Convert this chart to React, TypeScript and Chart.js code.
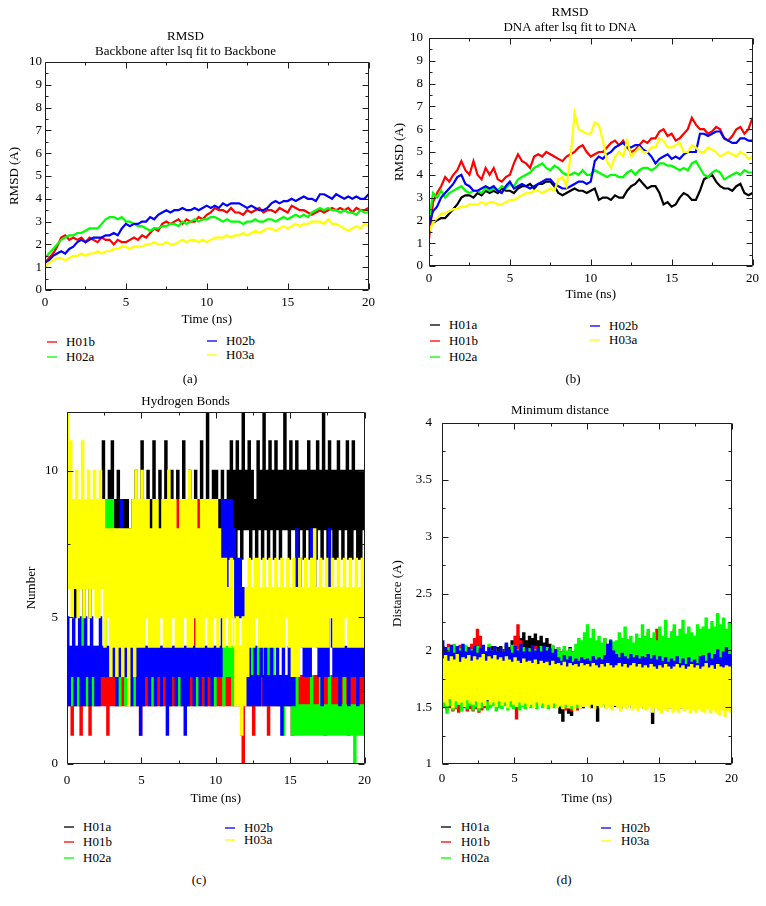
import React, { useEffect, useRef } from "react";
import { Chart, registerables } from "chart.js";

Chart.register(...registerables);

const SERIF = '"Liberation Serif", "Times New Roman", serif';

// ---------------- shared axis data ----------------
const TIME_MIN = 0;
const TIME_MAX = 20;
const TIME_TICKS = [0, 5, 10, 15, 20];
const TIME_MINOR = [2.5, 7.5, 12.5, 17.5];

const RMSD_TICKS = [0, 1, 2, 3, 4, 5, 6, 7, 8, 9, 10];
const RMSD_MINOR = [0.5, 1.5, 2.5, 3.5, 4.5, 5.5, 6.5, 7.5, 8.5, 9.5];
const HB_TICKS = [0, 5, 10];
const HB_MINOR = [2.5, 7.5];
const DIST_TICKS = [1, 1.5, 2, 2.5, 3, 3.5, 4];
const DIST_MINOR = [1.25, 1.75, 2.25, 2.75, 3.25, 3.75];

const RMSD_STEP = 0.25; // ns between samples, panels (a) and (b)
const CONTACT_STEP = 0.1; // ns between samples, panels (c) and (d)

const SERIES_COLORS: Record<string, string> = {
  H01a: "#000000",
  H01b: "#ff0000",
  H02a: "#00ff00",
  H02b: "#0000ff",
  H03a: "#ffff00",
};
// xmgrace draws later sets on top; in Chart.js a lower order is drawn on top
const SERIES_ORDER: Record<string, number> = { H01a: 4, H01b: 3, H02a: 2, H02b: 1, H03a: 0 };

// ---------------- (a) Backbone RMSD ----------------
const A_H01B = [
  1.2, 1.4, 1.6, 1.9, 2.3, 2.4, 2.2, 2.3,
  2.2, 2.3, 2.1, 2.3, 2.2, 2.1, 2.3, 2.2,
  2.2, 2.0, 2.2, 2.1, 2.1, 2.2, 2.3, 2.2,
  2.4, 2.3, 2.5, 2.7, 2.6, 2.9, 3.0, 2.9,
  3.0, 3.1, 2.9, 3.1, 3.0, 3.0, 3.2, 3.1,
  3.3, 3.4, 3.6, 3.5, 3.5, 3.4, 3.6, 3.4,
  3.4, 3.3, 3.5, 3.4, 3.5, 3.6, 3.4, 3.5,
  3.5, 3.4, 3.6, 3.5, 3.4, 3.7, 3.6, 3.5,
  3.5, 3.4, 3.3, 3.4, 3.5, 3.4, 3.5, 3.6,
  3.5, 3.6, 3.5, 3.6, 3.4, 3.6, 3.5, 3.5,
  3.6,
];
const A_H02A = [
  1.4, 1.6, 1.8, 2.0, 2.2, 2.3, 2.4, 2.4,
  2.5, 2.5, 2.6, 2.7, 2.7, 2.7, 2.9, 3.1,
  3.2, 3.2, 3.1, 3.2, 3.0, 3.0, 2.9, 2.8,
  2.8, 2.7, 2.6, 2.7, 2.7, 2.8, 2.8, 2.9,
  2.9, 2.8, 3.0, 2.9, 3.0, 3.1, 3.0, 3.1,
  3.1, 3.2, 3.2, 3.1, 3.0, 3.1, 3.0, 3.0,
  3.0, 2.9, 3.0, 3.0, 3.1, 3.0, 3.0, 3.1,
  3.1, 3.0, 3.1, 3.2, 3.1, 3.2, 3.3, 3.2,
  3.3, 3.2, 3.4, 3.5, 3.6, 3.5, 3.6, 3.5,
  3.5, 3.4, 3.5, 3.4, 3.4, 3.3, 3.5, 3.4,
  3.4,
];
const A_H02B = [
  1.2, 1.3, 1.5, 1.6, 1.7, 1.6, 1.8, 1.9,
  2.1, 2.2, 2.1, 2.2, 2.3, 2.3, 2.3, 2.4,
  2.4, 2.5, 2.4, 2.7, 2.9, 2.8, 2.9, 2.9,
  3.0, 3.0, 3.2, 3.1, 3.3, 3.4, 3.5, 3.4,
  3.5, 3.5, 3.6, 3.5, 3.5, 3.6, 3.5, 3.6,
  3.7, 3.6, 3.7, 3.6, 3.8, 3.7, 3.8, 3.8,
  3.8, 3.7, 3.6, 3.7, 3.6, 3.5, 3.5, 3.6,
  3.8, 3.9, 3.8, 3.9, 3.9, 4.0, 3.9, 4.0,
  4.1, 4.0, 4.0, 3.9, 4.2, 4.2, 4.1, 4.0,
  4.2, 4.1, 4.0, 4.1, 4.0, 4.1, 4.0, 4.0,
  4.2,
];
const A_H03A = [
  1.0, 1.2, 1.3, 1.4, 1.4, 1.3, 1.4, 1.5,
  1.5, 1.6, 1.5, 1.6, 1.6, 1.7, 1.6, 1.7,
  1.7, 1.8, 1.8, 1.9, 1.9, 1.8, 1.9, 1.9,
  1.9, 2.0, 2.0, 2.1, 2.0, 2.0, 2.1, 2.0,
  2.0, 2.1, 2.2, 2.1, 2.2, 2.2, 2.1, 2.2,
  2.1, 2.2, 2.3, 2.3, 2.3, 2.4, 2.3, 2.4,
  2.4, 2.5, 2.4, 2.5, 2.6, 2.5, 2.6, 2.7,
  2.7, 2.6, 2.7, 2.8, 2.7, 2.8, 2.9, 2.8,
  2.9, 2.9, 3.0, 3.0, 3.0, 2.9, 3.1, 2.9,
  2.9, 2.8, 2.7, 2.6, 2.7, 2.8, 2.7, 2.9,
  2.8,
];

// ---------------- (b) DNA RMSD ----------------
const B_H01A = [
  1.6, 1.9, 2.0, 2.1, 2.1, 2.3, 2.5, 2.7,
  3.0, 3.1, 3.1, 3.0, 3.2, 3.1, 3.3, 3.2,
  3.3, 3.2, 3.4, 3.3, 3.3, 3.2, 3.4, 3.5,
  3.5, 3.6, 3.4, 3.6, 3.6, 3.7, 3.7, 3.5,
  3.2, 3.1, 3.2, 3.3, 3.4, 3.3, 3.3, 3.2,
  3.3, 3.4, 2.9, 3.0, 3.0, 2.9, 3.1, 3.0,
  3.0, 3.3, 3.5, 3.6, 3.8, 3.6, 3.4, 3.5,
  3.5, 3.2, 2.7, 2.8, 2.6, 2.7, 3.0, 3.2,
  3.1, 2.9, 2.9, 3.3, 3.8, 3.9, 4.0, 3.7,
  3.5, 3.4, 3.4, 3.3, 3.5, 3.6, 3.2, 3.1,
  3.2,
];
const B_H01B = [
  1.2, 2.8, 3.2, 3.5, 3.9, 3.7, 4.0, 4.2,
  4.6, 4.2, 4.0, 4.6, 4.0, 3.8, 4.3, 4.0,
  4.3, 3.8, 3.7, 3.9, 4.0, 4.5, 4.9, 4.6,
  4.5, 4.3, 4.8, 4.9, 4.8, 5.0, 4.9, 4.8,
  4.7, 4.6, 4.8, 4.9, 5.0, 5.2, 5.3, 5.0,
  4.8, 4.9, 5.0, 5.0, 5.2, 5.4, 5.5, 5.3,
  5.5, 5.2, 5.0, 5.1, 5.3, 5.5, 5.4, 5.6,
  5.6, 5.9, 6.0, 5.7, 5.8, 5.5, 5.6, 5.8,
  6.0, 6.5, 6.2, 6.0, 6.0, 5.8, 5.9, 6.1,
  6.0, 5.6, 5.5, 5.7, 6.0, 6.1, 5.8, 6.0,
  6.5,
];
const B_H02A = [
  2.0, 3.2, 3.0, 3.3, 3.0, 3.2, 3.3, 3.4,
  3.5, 3.3, 3.2, 3.3, 3.3, 3.2, 3.4, 3.3,
  3.4, 3.3, 3.5, 3.4, 3.6, 3.5, 3.8, 3.9,
  4.0, 4.1, 4.3, 4.4, 4.5, 4.3, 4.2, 4.4,
  4.3, 4.1, 4.0, 4.0, 4.1, 4.0, 4.2, 4.0,
  4.0, 4.2, 4.1, 4.0, 3.9, 4.0, 4.0, 3.9,
  3.9, 4.1, 4.2, 4.0, 4.2, 4.3, 4.3, 4.2,
  4.3, 4.5, 4.5, 4.4, 4.4, 4.3, 4.2, 4.3,
  4.2, 4.5, 4.6, 4.3, 4.0, 3.9, 4.1, 4.2,
  4.1, 3.8, 3.9, 4.0, 4.1, 4.0, 4.2, 4.1,
  4.1,
];
const B_H02B = [
  1.8, 2.4, 2.6, 3.0, 3.2, 3.4, 3.6, 3.9,
  4.0, 3.6, 3.5, 3.3, 3.3, 3.4, 3.5, 3.4,
  3.5, 3.3, 3.2, 3.5, 3.7, 3.4, 3.5, 3.6,
  3.5, 3.4, 3.5, 3.6, 3.7, 3.8, 3.8, 3.6,
  3.5, 3.4, 3.4, 3.5, 3.6, 3.7, 3.7, 3.6,
  3.7, 4.6, 4.8, 4.7, 4.9, 5.0, 5.2, 5.3,
  5.4, 5.2, 5.2, 5.3, 5.3, 5.1, 5.0, 4.8,
  4.5, 4.7, 4.8, 4.9, 4.7, 4.8, 4.7, 4.9,
  5.0, 5.0, 5.0, 5.8, 5.8, 5.7, 5.8, 5.9,
  5.9, 5.6, 5.5, 5.4, 5.4, 5.6, 5.6, 5.5,
  5.5,
];
const B_H03A = [
  1.5, 1.9, 2.1, 2.3, 2.3, 2.4, 2.5, 2.5,
  2.6, 2.6, 2.7, 2.7, 2.7, 2.8, 2.7, 2.8,
  2.8, 2.7, 2.7, 2.8, 2.9, 2.9, 3.0, 3.1,
  3.2, 3.2, 3.3, 3.3, 3.2, 3.3, 3.4, 3.3,
  3.8, 3.9, 3.5, 4.8, 6.7, 6.0, 5.9, 5.8,
  5.8, 6.3, 6.2, 5.5, 4.6, 4.3, 4.8, 5.0,
  4.8, 5.5, 4.8, 5.0, 5.2, 5.0, 5.0, 5.2,
  5.2, 5.6, 5.5, 5.2, 5.2, 5.3, 5.4, 5.0,
  5.0, 5.3, 5.2, 5.0, 5.0, 5.2, 5.1, 5.0,
  4.8, 4.9, 5.0, 4.9, 4.8, 5.0, 4.9, 4.7,
  4.8,
];

// ---------------- (c) Hydrogen bonds ----------------
const C_H01A = [
  8, 6, 9, 6, 8, 5, 8, 6, 9, 6, 8, 5, 8, 6, 9, 5, 8, 6, 9, 6,
  8, 6, 9, 6, 11, 8, 9, 8, 10, 8, 11, 8, 9, 8, 10, 8, 9, 7, 9, 8,
  9, 7, 8, 6, 9, 7, 10, 7, 9, 7, 11, 7, 9, 7, 10, 7, 9, 7, 11, 7,
  9, 7, 10, 7, 9, 7, 11, 8, 9, 7, 10, 7, 9, 7, 10, 7, 9, 7, 11, 8,
  9, 7, 10, 7, 9, 7, 10, 7, 9, 7, 11, 8, 9, 7, 12, 8, 9, 7, 10, 8,
  10, 8, 9, 8, 10, 7, 9, 8, 10, 7, 11, 8, 10, 7, 11, 8, 10, 7, 12, 8,
  10, 8, 11, 7, 10, 8, 9, 7, 11, 8, 10, 7, 12, 8, 10, 7, 11, 8, 10, 7,
  11, 8, 10, 7, 10, 8, 12, 8, 10, 7, 11, 8, 10, 8, 11, 7, 10, 8, 10, 7,
  10, 8, 11, 7, 10, 8, 10, 7, 11, 8, 10, 7, 12, 8, 10, 7, 11, 8, 10, 7,
  10, 7, 11, 8, 10, 7, 10, 8, 11, 7, 10, 7, 11, 8, 10, 7, 10, 7, 10, 8,
  10,
];
const C_H01B = [
  3, 2, 3, 1, 3, 2, 3, 2, 3, 1, 3, 2, 3, 2, 3, 1, 3, 2, 3, 2,
  3, 2, 3, 2, 3, 2, 3, 1, 3, 2, 3, 2, 3, 2, 3, 2, 3, 2, 3, 2,
  3, 2, 3, 2, 3, 2, 3, 2, 3, 1, 3, 2, 3, 2, 3, 2, 3, 2, 3, 2,
  3, 2, 3, 2, 3, 2, 3, 2, 3, 2, 3, 2, 3, 2, 9, 3, 3, 2, 3, 2,
  3, 2, 3, 2, 3, 2, 9, 8, 9, 8, 3, 2, 3, 2, 3, 2, 3, 2, 3, 2,
  3, 2, 3, 2, 3, 2, 3, 2, 3, 2, 3, 2, 3, 2, 3, 2, 3, 1, 0, 2,
  3, 2, 3, 2, 3, 1, 3, 2, 3, 2, 3, 2, 3, 2, 3, 1, 3, 2, 3, 2,
  3, 2, 3, 2, 3, 2, 3, 2, 3, 2, 3, 1, 3, 2, 3, 2, 3, 2, 3, 2,
  3, 2, 3, 2, 3, 2, 3, 2, 3, 2, 3, 2, 3, 1, 3, 2, 3, 2, 3, 2,
  3, 2, 3, 2, 3, 2, 3, 2, 3, 1, 3, 2, 3, 2, 3, 2, 3, 2, 3, 2,
  3,
];
const C_H02A = [
  4, 3, 4, 2, 4, 3, 4, 2, 4, 3, 5, 3, 4, 2, 4, 3, 4, 2, 4, 3,
  4, 3, 4, 3, 4, 3, 9, 8, 9, 8, 9, 8, 4, 3, 4, 2, 4, 3, 4, 2,
  4, 3, 4, 3, 4, 2, 4, 3, 4, 3, 4, 2, 4, 3, 4, 3, 4, 2, 4, 3,
  4, 3, 4, 2, 4, 3, 4, 3, 4, 2, 4, 3, 4, 3, 4, 2, 4, 3, 4, 3,
  4, 2, 4, 3, 4, 3, 4, 2, 4, 3, 4, 3, 4, 2, 4, 3, 4, 3, 4, 2,
  4, 3, 4, 3, 4, 2, 4, 3, 4, 3, 4, 2, 4, 3, 4, 3, 4, 2, 4, 3,
  4, 3, 4, 2, 4, 3, 4, 3, 4, 2, 4, 3, 4, 3, 4, 2, 4, 3, 4, 3,
  3, 2, 3, 2, 3, 1, 3, 2, 3, 2, 3, 1, 2, 1, 3, 1, 2, 1, 2, 1,
  2, 1, 2, 1, 3, 1, 2, 1, 2, 1, 3, 1, 2, 1, 2, 1, 3, 1, 2, 1,
  2, 1, 2, 1, 2, 1, 3, 1, 2, 1, 2, 1, 2, 0, 2, 1, 2, 1, 2, 1,
  2,
];
const C_H02B = [
  5, 2, 4, 3, 5, 2, 4, 3, 5, 2, 4, 2, 5, 3, 4, 2, 5, 3, 4, 2,
  4, 2, 5, 3, 4, 3, 4, 3, 4, 3, 4, 3, 4, 2, 4, 3, 9, 3, 8, 3,
  7, 3, 4, 2, 4, 3, 4, 2, 4, 1, 4, 2, 4, 3, 4, 2, 4, 3, 4, 2,
  4, 3, 4, 2, 4, 3, 4, 1, 4, 2, 4, 3, 4, 2, 4, 3, 4, 2, 4, 1,
  4, 2, 4, 3, 4, 2, 4, 3, 4, 2, 4, 3, 4, 2, 4, 3, 4, 2, 4, 3,
  4, 3, 4, 3, 9, 7, 9, 6, 9, 7, 9, 7, 8, 5, 7, 5, 7, 5, 6, 5,
  3, 2, 4, 2, 3, 2, 4, 2, 3, 2, 4, 3, 2, 4, 2, 3, 2, 4, 2, 3,
  2, 4, 2, 3, 1, 4, 2, 3, 2, 4, 2, 3, 2, 3, 8, 6, 7, 6, 4, 3,
  4, 3, 4, 3, 8, 6, 7, 6, 4, 3, 4, 2, 4, 3, 4, 3, 8, 6, 4, 3,
  4, 3, 4, 2, 4, 3, 4, 3, 4, 2, 4, 3, 4, 3, 4, 2, 4, 3, 4, 3,
  4,
];
const C_H03A = [
  12, 6, 11, 5, 9, 6, 10, 5, 9, 6, 11, 5, 9, 6, 10, 5, 9, 6, 10, 5,
  9, 5, 10, 6, 9, 4, 8, 5, 8, 3, 8, 4, 8, 3, 8, 4, 8, 3, 8, 4,
  8, 2, 8, 4, 9, 3, 10, 4, 9, 4, 10, 4, 9, 5, 9, 4, 8, 4, 9, 4,
  9, 4, 8, 5, 9, 4, 9, 4, 10, 4, 9, 5, 9, 4, 8, 4, 9, 4, 9, 5,
  9, 4, 10, 4, 9, 5, 9, 4, 8, 4, 9, 4, 9, 5, 9, 4, 9, 4, 9, 5,
  9, 4, 8, 5, 7, 4, 7, 5, 6, 4, 7, 5, 4, 2, 5, 2, 4, 1, 5, 2,
  6, 3, 7, 4, 6, 4, 7, 5, 7, 4, 6, 4, 7, 4, 6, 4, 7, 4, 6, 4,
  7, 4, 6, 4, 7, 4, 6, 5, 7, 4, 6, 3, 7, 3, 6, 3, 7, 4, 6, 4,
  7, 4, 6, 4, 7, 4, 8, 4, 6, 4, 7, 4, 6, 4, 7, 4, 6, 5, 7, 4,
  6, 4, 7, 4, 6, 4, 7, 5, 6, 4, 7, 4, 6, 4, 7, 4, 6, 4, 7, 4,
  6,
];

// ---------------- (d) Minimum distance ----------------
const D_H01A = [
  2.03, 1.53, 1.99, 1.50, 2.02, 1.55, 1.98, 1.52, 2.04, 1.54, 1.99, 1.51, 2.02, 1.53, 1.98, 1.55, 2.03, 1.52, 2.00, 1.54,
  2.02, 1.53, 1.99, 1.55, 2.03, 1.52, 2.00, 1.54, 2.02, 1.53, 1.98, 1.55, 2.01, 1.52, 2.03, 1.54, 1.99, 1.53, 2.02, 1.55,
  2.03, 1.52, 2.00, 1.54, 2.05, 1.53, 2.02, 1.55, 2.08, 1.52, 2.06, 1.54, 2.12, 1.53, 2.10, 1.55, 2.15, 1.52, 2.08, 1.54,
  2.12, 1.53, 2.10, 1.55, 2.14, 1.52, 2.08, 1.54, 2.12, 1.53, 2.06, 1.55, 2.10, 1.52, 2.05, 1.54, 2.03, 1.53, 2.00, 1.55,
  2.02, 1.45, 1.98, 1.38, 2.00, 1.50, 1.97, 1.45, 2.02, 1.43, 1.98, 1.50, 1.99, 1.52, 2.01, 1.53, 1.98, 1.50, 2.00, 1.52,
  2.01, 1.53, 1.99, 1.50, 2.02, 1.52, 1.98, 1.38, 2.00, 1.52, 1.99, 1.53, 2.01, 1.50, 1.98, 1.52, 2.00, 1.53, 1.99, 1.51,
  2.00, 1.52, 1.98, 1.50, 2.01, 1.53, 1.99, 1.51, 2.00, 1.52, 1.98, 1.50, 2.01, 1.52, 1.99, 1.51, 2.00, 1.53, 1.98, 1.50,
  2.00, 1.51, 1.98, 1.53, 2.01, 1.36, 1.99, 1.52, 2.00, 1.50, 1.98, 1.52, 2.01, 1.51, 1.99, 1.53, 2.00, 1.50, 1.98, 1.52,
  2.00, 1.51, 1.99, 1.52, 2.01, 1.50, 1.98, 1.52, 2.00, 1.51, 1.99, 1.53, 2.01, 1.50, 1.98, 1.52, 2.00, 1.51, 1.99, 1.52,
  2.01, 1.50, 1.98, 1.52, 2.00, 1.51, 1.99, 1.53, 2.01, 1.50, 1.98, 1.52, 2.00, 1.51, 1.99, 1.52, 2.00, 1.50, 1.98, 1.52,
  2.00,
];
const D_H01B = [
  2.02, 1.52, 1.98, 1.48, 2.05, 1.50, 1.99, 1.47, 2.03, 1.49, 1.97, 1.46, 2.04, 1.48, 1.98, 1.50, 2.02, 1.47, 1.99, 1.49,
  2.05, 1.47, 2.10, 1.49, 2.18, 1.46, 2.12, 1.48, 2.03, 1.50, 1.98, 1.52, 2.02, 1.55, 1.99, 1.53, 2.01, 1.55, 1.98, 1.53,
  2.02, 1.54, 1.99, 1.52, 2.03, 1.55, 1.98, 1.53, 2.01, 1.50, 2.12, 1.40, 2.22, 1.52, 2.08, 1.54, 2.02, 1.55, 1.99, 1.53,
  2.01, 1.54, 1.98, 1.52, 2.03, 1.55, 1.99, 1.53, 2.00, 1.54, 1.98, 1.52, 2.02, 1.55, 1.99, 1.53, 2.01, 1.54, 1.98, 1.52,
  2.00, 1.53, 1.98, 1.50, 1.95, 1.48, 1.97, 1.49, 1.94, 1.47, 1.96, 1.50, 1.95, 1.48, 1.97, 1.50, 1.98, 1.52, 2.00, 1.53,
  2.02, 1.53, 1.99, 1.55, 2.01, 1.52, 1.98, 1.54, 2.02, 1.53, 1.99, 1.55, 2.10, 1.52, 2.01, 1.54, 1.98, 1.53, 2.00, 1.55,
  2.00, 1.54, 2.02, 1.52, 1.99, 1.55, 2.01, 1.53, 2.05, 1.54, 2.00, 1.52, 1.98, 1.55, 2.10, 1.53, 2.02, 1.54, 1.99, 1.52,
  2.01, 1.54, 2.15, 1.52, 2.00, 1.55, 2.02, 1.53, 2.18, 1.54, 2.01, 1.52, 1.99, 1.55, 2.03, 1.53, 2.00, 1.54, 2.02, 1.52,
  2.18, 1.54, 2.00, 1.52, 2.02, 1.55, 2.08, 1.53, 2.00, 1.54, 2.03, 1.52, 2.01, 1.55, 1.99, 1.53, 2.02, 1.54, 2.00, 1.52,
  2.02, 1.54, 2.00, 1.52, 2.05, 1.55, 2.01, 1.53, 2.03, 1.54, 2.00, 1.52, 2.02, 1.55, 2.01, 1.53, 2.00, 1.54, 2.02, 1.52,
  2.01,
];
const D_H02A = [
  2.00, 1.50, 1.95, 1.45, 2.02, 1.52, 1.97, 1.48, 2.05, 1.50, 1.96, 1.53, 2.01, 1.47, 1.98, 1.51, 2.04, 1.49, 1.96, 1.52,
  2.00, 1.48, 1.97, 1.51, 2.03, 1.47, 1.98, 1.50, 2.02, 1.53, 1.96, 1.48, 2.05, 1.50, 1.99, 1.52, 2.01, 1.47, 1.97, 1.50,
  2.02, 1.49, 1.96, 1.52, 2.03, 1.48, 1.98, 1.51, 2.04, 1.49, 1.97, 1.52, 2.00, 1.48, 1.99, 1.51, 2.02, 1.49, 1.98, 1.52,
  2.01, 1.50, 1.97, 1.53, 2.00, 1.49, 1.98, 1.52, 2.03, 1.50, 1.99, 1.53, 2.02, 1.49, 1.98, 1.51, 2.04, 1.50, 1.99, 1.52,
  2.02, 1.51, 1.98, 1.53, 2.03, 1.50, 1.99, 1.52, 2.01, 1.49, 1.98, 1.52, 2.05, 1.50, 2.10, 1.53, 2.08, 1.51, 2.15, 1.52,
  2.22, 1.53, 2.10, 1.55, 2.18, 1.52, 2.08, 1.54, 2.12, 1.51, 2.06, 1.53, 2.10, 1.52, 2.05, 1.54, 2.09, 1.52, 2.07, 1.53,
  2.08, 1.53, 2.15, 1.55, 2.10, 1.52, 2.20, 1.54, 2.09, 1.53, 2.12, 1.55, 2.06, 1.52, 2.14, 1.54, 2.10, 1.53, 2.22, 1.55,
  2.12, 1.53, 2.18, 1.55, 2.10, 1.52, 2.15, 1.54, 2.08, 1.53, 2.20, 1.55, 2.12, 1.52, 2.26, 1.54, 2.10, 1.53, 2.16, 1.55,
  2.22, 1.55, 2.12, 1.57, 2.18, 1.54, 2.26, 1.56, 2.14, 1.55, 2.20, 1.57, 2.15, 1.54, 2.12, 1.56, 2.22, 1.55, 2.18, 1.57,
  2.20, 1.56, 2.28, 1.58, 2.18, 1.55, 2.25, 1.57, 2.20, 1.56, 2.32, 1.58, 2.22, 1.55, 2.28, 1.57, 2.18, 1.56, 2.24, 1.58,
  2.15,
];
const D_H02B = [
  2.08, 1.60, 2.02, 1.55, 1.98, 1.62, 2.04, 1.58, 1.97, 1.60, 2.03, 1.57, 1.99, 1.62, 2.05, 1.59, 1.98, 1.61, 2.02, 1.58,
  1.99, 1.60, 2.03, 1.57, 1.97, 1.62, 2.01, 1.58, 2.04, 1.60, 1.98, 1.56, 2.02, 1.61, 1.99, 1.57, 2.03, 1.60, 1.98, 1.58,
  2.02, 1.59, 1.98, 1.61, 2.06, 1.57, 2.00, 1.60, 1.97, 1.58, 2.03, 1.61, 1.99, 1.57, 2.05, 1.60, 1.98, 1.58, 2.02, 1.61,
  1.98, 1.58, 2.04, 1.60, 1.99, 1.57, 2.02, 1.61, 1.98, 1.58, 2.03, 1.60, 1.99, 1.57, 2.01, 1.59, 1.97, 1.60, 2.00, 1.58,
  1.93, 1.60, 1.90, 1.57, 1.95, 1.61, 1.91, 1.58, 1.94, 1.60, 1.89, 1.57, 1.92, 1.60, 1.90, 1.58, 1.93, 1.61, 1.91, 1.59,
  1.92, 1.60, 1.90, 1.57, 1.94, 1.61, 1.91, 1.58, 1.93, 1.60, 1.91, 1.57, 1.95, 1.61, 2.05, 1.58, 2.08, 1.60, 1.99, 1.57,
  1.96, 1.59, 1.93, 1.61, 1.97, 1.57, 1.94, 1.60, 1.92, 1.58, 1.96, 1.61, 1.93, 1.57, 1.95, 1.60, 1.92, 1.58, 1.94, 1.61,
  1.93, 1.58, 1.96, 1.60, 1.92, 1.57, 1.95, 1.61, 1.91, 1.58, 1.94, 1.60, 1.90, 1.57, 1.93, 1.60, 1.89, 1.58, 1.92, 1.60,
  1.90, 1.57, 1.94, 1.60, 1.88, 1.58, 1.92, 1.61, 1.87, 1.57, 1.93, 1.60, 1.89, 1.58, 1.91, 1.60, 1.88, 1.57, 1.94, 1.60,
  1.95, 1.58, 1.90, 1.61, 1.97, 1.57, 1.92, 1.60, 1.96, 1.58, 2.00, 1.61, 1.93, 1.57, 1.98, 1.60, 2.02, 1.58, 1.96, 1.60,
  1.97,
];
const D_H03A = [
  1.92, 1.55, 1.95, 1.52, 1.90, 1.58, 1.94, 1.50, 1.91, 1.56, 1.96, 1.53, 1.89, 1.55, 1.93, 1.51, 1.92, 1.57, 1.95, 1.54,
  1.90, 1.53, 1.94, 1.56, 1.91, 1.50, 1.93, 1.55, 1.96, 1.52, 1.90, 1.57, 1.94, 1.53, 1.92, 1.55, 1.95, 1.51, 1.91, 1.56,
  1.93, 1.52, 1.90, 1.55, 1.94, 1.50, 1.91, 1.56, 1.89, 1.53, 1.93, 1.51, 1.90, 1.55, 1.88, 1.52, 1.92, 1.54, 1.89, 1.51,
  1.90, 1.53, 1.88, 1.50, 1.91, 1.55, 1.87, 1.52, 1.90, 1.54, 1.88, 1.50, 1.89, 1.53, 1.86, 1.51, 1.90, 1.54, 1.87, 1.50,
  1.88, 1.52, 1.86, 1.49, 1.89, 1.53, 1.85, 1.50, 1.88, 1.52, 1.86, 1.48, 1.87, 1.53, 1.85, 1.50, 1.88, 1.51, 1.86, 1.52,
  1.87, 1.50, 1.85, 1.53, 1.88, 1.49, 1.86, 1.52, 1.84, 1.50, 1.87, 1.53, 1.85, 1.49, 1.88, 1.51, 1.86, 1.48, 1.84, 1.52,
  1.86, 1.50, 1.88, 1.47, 1.85, 1.51, 1.87, 1.49, 1.84, 1.52, 1.86, 1.48, 1.88, 1.50, 1.85, 1.47, 1.87, 1.51, 1.84, 1.49,
  1.86, 1.48, 1.84, 1.51, 1.87, 1.46, 1.85, 1.50, 1.83, 1.48, 1.86, 1.45, 1.84, 1.49, 1.87, 1.47, 1.85, 1.50, 1.83, 1.46,
  1.85, 1.48, 1.87, 1.46, 1.84, 1.50, 1.86, 1.47, 1.83, 1.49, 1.85, 1.45, 1.87, 1.48, 1.84, 1.46, 1.86, 1.49, 1.83, 1.47,
  1.85, 1.46, 1.88, 1.49, 1.84, 1.45, 1.86, 1.48, 1.83, 1.46, 1.87, 1.44, 1.85, 1.48, 1.84, 1.42, 1.86, 1.47, 1.85, 1.46,
  1.84,
];

// ---------------- panel specifications ----------------
type Series = { name: string; values: number[] };
type PanelSpec = {
  left: number; top: number; width: number; height: number;
  title: string[];
  titlePadTop: number; titlePadBottom: number;
  yTitle: string; yMin: number; yMax: number; yTicks: number[]; yMinor: number[];
  yAxisWidth: number; yTickPad: number; yTitlePad: number;
  xAxisHeight: number; xTickPad: number; padRight: number;
  step: number; lineWidth: number; stepped: boolean;
  series: Series[];
};

const PANEL_A: PanelSpec = {
  left: 0, top: 0, width: 380, height: 327,
  title: ["RMSD", "Backbone after lsq fit to Backbone"], titlePadTop: 29.5, titlePadBottom: 2.6,
  yTitle: "RMSD (A)", yMin: 0, yMax: 10, yTicks: RMSD_TICKS, yMinor: RMSD_MINOR,
  yAxisWidth: 45, yTickPad: 3, yTitlePad: 7.2,
  xAxisHeight: 37, xTickPad: 5, padRight: 9,
  step: RMSD_STEP, lineWidth: 2.2, stepped: false,
  series: [
    { name: "H01b", values: A_H01B },
    { name: "H02a", values: A_H02A },
    { name: "H02b", values: A_H02B },
    { name: "H03a", values: A_H03A },
  ],
};
const PANEL_B: PanelSpec = {
  left: 385, top: 0, width: 379, height: 302,
  title: ["RMSD", "DNA after lsq fit to DNA"], titlePadTop: 5.5, titlePadBottom: 2.6,
  yTitle: "RMSD (A)", yMin: 0, yMax: 10, yTicks: RMSD_TICKS, yMinor: RMSD_MINOR,
  yAxisWidth: 44, yTickPad: 6, yTitlePad: 7.2,
  xAxisHeight: 36, xTickPad: 5, padRight: 9,
  step: RMSD_STEP, lineWidth: 2.2, stepped: false,
  series: [
    { name: "H01a", values: B_H01A },
    { name: "H01b", values: B_H01B },
    { name: "H02a", values: B_H02A },
    { name: "H02b", values: B_H02B },
    { name: "H03a", values: B_H03A },
  ],
};
const PANEL_C: PanelSpec = {
  left: 0, top: 385, width: 380, height: 421,
  title: ["Hydrogen Bonds"], titlePadTop: 9.5, titlePadBottom: 2.55,
  yTitle: "Number", yMin: 0, yMax: 12, yTicks: HB_TICKS, yMinor: HB_MINOR,
  yAxisWidth: 67, yTickPad: 9, yTitlePad: 24.2,
  xAxisHeight: 42, xTickPad: 9, padRight: 9,
  step: CONTACT_STEP, lineWidth: 2, stepped: true,
  series: [
    { name: "H01a", values: C_H01A },
    { name: "H01b", values: C_H01B },
    { name: "H02a", values: C_H02A },
    { name: "H02b", values: C_H02B },
    { name: "H03a", values: C_H03A },
  ],
};
const PANEL_D: PanelSpec = {
  left: 385, top: 392, width: 360, height: 414,
  title: ["Minimum distance"], titlePadTop: 11.2, titlePadBottom: 4.85,
  yTitle: "Distance (A)", yMin: 1, yMax: 4, yTicks: DIST_TICKS, yMinor: DIST_MINOR,
  yAxisWidth: 57, yTickPad: 10, yTitlePad: 5.2,
  xAxisHeight: 42, xTickPad: 7, padRight: 10,
  step: CONTACT_STEP, lineWidth: 2, stepped: true,
  series: [
    { name: "H01a", values: D_H01A },
    { name: "H01b", values: D_H01B },
    { name: "H02a", values: D_H02A },
    { name: "H02b", values: D_H02B },
    { name: "H03a", values: D_H03A },
  ],
};

type LegendCol = { markerX: number; textX: number; rows: number[]; names: string[] };
type Caption = { text: string; cx: number; cy: number };

const LEGENDS: LegendCol[] = [
  { markerX: 47, textX: 66, rows: [342, 357], names: ["H01b", "H02a"] },
  { markerX: 207, textX: 226, rows: [341, 355], names: ["H02b", "H03a"] },
  { markerX: 430, textX: 449, rows: [325, 341, 357], names: ["H01a", "H01b", "H02a"] },
  { markerX: 590, textX: 609, rows: [326, 340], names: ["H02b", "H03a"] },
  { markerX: 64, textX: 83, rows: [827, 842, 858], names: ["H01a", "H01b", "H02a"] },
  { markerX: 225, textX: 244, rows: [828, 840], names: ["H02b", "H03a"] },
  { markerX: 441, textX: 461, rows: [827, 842, 858], names: ["H01a", "H01b", "H02a"] },
  { markerX: 601, textX: 621, rows: [828, 841], names: ["H02b", "H03a"] },
];
const CAPTIONS: Caption[] = [
  { text: "(a)", cx: 190, cy: 379 },
  { text: "(b)", cx: 573, cy: 379 },
  { text: "(c)", cx: 199, cy: 880 },
  { text: "(d)", cx: 564, cy: 880 },
];

// ---------------- chart helpers ----------------
function makeFramePlugin(xMajor: number[], xMinor: number[], yMajor: number[], yMinor: number[]) {
  return {
    id: "frameTicks",
    afterDatasetsDraw(chart: any) {
      const { ctx, chartArea: a, scales } = chart;
      const xs = scales.x;
      const ys = scales.y;
      const L = Math.round(a.left) + 0.5;
      const R = Math.round(a.right) - 0.5;
      const T = Math.round(a.top) + 0.5;
      const B = Math.round(a.bottom) - 0.5;
      ctx.save();
      ctx.strokeStyle = "#1e1e1e";
      ctx.lineWidth = 1;
      ctx.beginPath();
      ctx.rect(L, T, R - L, B - T);
      const markX = (vals: number[], len: number) =>
        vals.forEach((v) => {
          const p = Math.round(xs.getPixelForValue(v)) + 0.5;
          ctx.moveTo(p, B); ctx.lineTo(p, B - len);
          ctx.moveTo(p, T); ctx.lineTo(p, T + len);
        });
      const markY = (vals: number[], len: number) =>
        vals.forEach((v) => {
          const p = Math.round(ys.getPixelForValue(v)) + 0.5;
          ctx.moveTo(L, p); ctx.lineTo(L + len, p);
          ctx.moveTo(R, p); ctx.lineTo(R - len, p);
        });
      markX(xMajor, 6); markX(xMinor, 3);
      markY(yMajor, 6); markY(yMinor, 3);
      ctx.stroke();
      ctx.restore();
    },
  };
}

function buildConfig(p: PanelSpec): any {
  const font = { family: SERIF, size: 13, weight: "normal" as const };
  return {
    type: "line",
    data: {
      datasets: p.series.map((s) => ({
        label: s.name,
        data: s.values.map((v, i) => ({ x: i * p.step, y: v })),
        borderColor: SERIES_COLORS[s.name],
        backgroundColor: SERIES_COLORS[s.name],
        borderWidth: p.lineWidth,
        pointRadius: 0,
        tension: 0,
        stepped: p.stepped,
        fill: false,
        order: SERIES_ORDER[s.name],
      })),
    },
    options: {
      animation: false,
      responsive: false,
      maintainAspectRatio: false,
      devicePixelRatio: 1,
      events: [],
      layout: { padding: { left: 0, right: p.padRight, top: 0, bottom: 0 } },
      plugins: {
        legend: { display: false },
        tooltip: { enabled: false },
        title: {
          display: true,
          text: p.title,
          color: "#000",
          font: { ...font, lineHeight: 1.15 },
          padding: { top: p.titlePadTop, bottom: p.titlePadBottom },
        },
      },
      scales: {
        x: {
          type: "linear",
          min: TIME_MIN,
          max: TIME_MAX,
          afterFit: (s: any) => { s.height = p.xAxisHeight; },
          afterBuildTicks: (s: any) => { s.ticks = TIME_TICKS.map((v) => ({ value: v })); },
          grid: { display: false, drawTicks: false },
          border: { display: false },
          ticks: { color: "#000", font, padding: p.xTickPad, maxRotation: 0, autoSkip: false, callback: (v: any) => String(v) },
          title: { display: true, text: "Time (ns)", color: "#000", font, padding: { top: 0, bottom: 0 } },
        },
        y: {
          type: "linear",
          min: p.yMin,
          max: p.yMax,
          afterFit: (s: any) => { s.width = p.yAxisWidth; },
          afterBuildTicks: (s: any) => { s.ticks = p.yTicks.map((v) => ({ value: v })); },
          grid: { display: false, drawTicks: false },
          border: { display: false },
          ticks: { color: "#000", font, padding: p.yTickPad, autoSkip: false, callback: (v: any) => String(v) },
          title: { display: true, text: p.yTitle, color: "#000", font, padding: { top: p.yTitlePad, bottom: 0 } },
        },
      },
    },
    plugins: [makeFramePlugin(TIME_TICKS, TIME_MINOR, p.yTicks, p.yMinor)],
  };
}

function Panel({ spec }: { spec: PanelSpec }) {
  const ref = useRef<HTMLCanvasElement>(null);
  useEffect(() => {
    if (!ref.current) return;
    const chart = new Chart(ref.current, buildConfig(spec));
    return () => chart.destroy();
  }, [spec]);
  return (
    <canvas
      ref={ref}
      width={spec.width}
      height={spec.height}
      style={{ position: "absolute", left: spec.left, top: spec.top, width: spec.width, height: spec.height }}
    />
  );
}

export default function App() {
  return (
    <div
      style={{
        position: "absolute", left: 0, top: 0, width: 766, height: 906,
        background: "#fff", fontFamily: SERIF, color: "#000", overflow: "hidden",
      }}
    >
      <Panel spec={PANEL_A} />
      <Panel spec={PANEL_B} />
      <Panel spec={PANEL_C} />
      <Panel spec={PANEL_D} />
      {LEGENDS.map((col, ci) =>
        col.names.map((n, i) => (
          <React.Fragment key={`${ci}-${n}`}>
            <div
              style={{
                position: "absolute", left: col.markerX, top: col.rows[i] - 1, width: 10, height: 2,
                background: SERIES_COLORS[n], opacity: 0.65,
              }}
            />
            <div
              style={{
                position: "absolute", left: col.textX, top: col.rows[i] - 8, fontSize: 13,
                lineHeight: "16px", whiteSpace: "nowrap",
              }}
            >
              {n}
            </div>
          </React.Fragment>
        ))
      )}
      {CAPTIONS.map((c) => (
        <div
          key={c.text}
          style={{
            position: "absolute", left: c.cx - 20, top: c.cy - 8, width: 40, textAlign: "center",
            fontSize: 13, lineHeight: "16px",
          }}
        >
          {c.text}
        </div>
      ))}
    </div>
  );
}
